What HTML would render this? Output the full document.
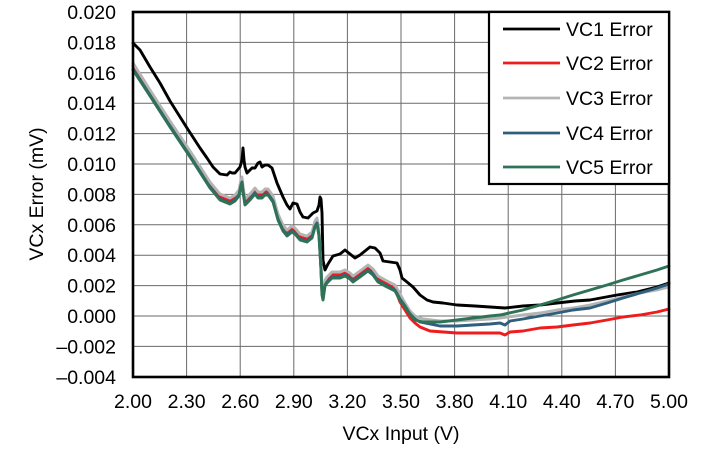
<!DOCTYPE html>
<html>
<head>
<meta charset="utf-8">
<style>
html,body{margin:0;padding:0;background:#fff;}
svg{display:block;}
text{font-family:"Liberation Sans",Arial,sans-serif;fill:#000;}
</style>
</head>
<body>
<svg width="718" height="455" viewBox="0 0 718 455" xmlns="http://www.w3.org/2000/svg">
<rect width="718" height="455" fill="#fff"/>
<!-- grid -->
<g stroke="#6a6a6a" stroke-width="1">
<line x1="186.6" y1="12" x2="186.6" y2="377"/>
<line x1="240.2" y1="12" x2="240.2" y2="377"/>
<line x1="293.8" y1="12" x2="293.8" y2="377"/>
<line x1="347.4" y1="12" x2="347.4" y2="377"/>
<line x1="401" y1="12" x2="401" y2="377"/>
<line x1="454.6" y1="12" x2="454.6" y2="377"/>
<line x1="508.2" y1="12" x2="508.2" y2="377"/>
<line x1="561.8" y1="12" x2="561.8" y2="377"/>
<line x1="615.4" y1="12" x2="615.4" y2="377"/>
<line x1="133" y1="42.4" x2="669" y2="42.4"/>
<line x1="133" y1="72.8" x2="669" y2="72.8"/>
<line x1="133" y1="103.2" x2="669" y2="103.2"/>
<line x1="133" y1="133.6" x2="669" y2="133.6"/>
<line x1="133" y1="164" x2="669" y2="164"/>
<line x1="133" y1="194.4" x2="669" y2="194.4"/>
<line x1="133" y1="224.8" x2="669" y2="224.8"/>
<line x1="133" y1="255.2" x2="669" y2="255.2"/>
<line x1="133" y1="285.6" x2="669" y2="285.6"/>
<line x1="133" y1="316" x2="669" y2="316"/>
<line x1="133" y1="346.4" x2="669" y2="346.4"/>
</g>
<!-- series -->
<g fill="none" stroke-width="2.9" stroke-linejoin="round" stroke-linecap="round">
<polyline stroke="#000000" points="133,43 140,50 150,67 160,83 170,101 187,128 200,148 207,158 213,167 220,174 227,175 230,172 232,173 235,173 240,167 242,160 243,148 244,160 245,167 247,173 252,168 255,168 258,163 260,162 262,167 265,165 268,165 272,168 277,183 280,190 283,197 287,205 290,209 293,203 297,204 300,212 303,217 308,218 313,213 317,211 319,205 320,197 321,199 322,213 323,260 325,270 328,264 333,256 340,254 345,250 350,254 355,258 360,255 365,251 370,247 375,248 380,253 383,261 390,262 397,263 400,270 402,278 407,282 413,287 420,295 427,300 433,302 443,303 457,305 475,306 490,307 505,308 523,306 540,305 557,303 575,301 590,300 617,295 637,292 657,287 669,283"/>
<polyline stroke="#ee1c1c" points="133,66 150,93 170,124 192,157 210,185 220,197 225,199 230,201 235,198 239,193 241,180 242,179 243,189 245,202 248,199 250,197 255,191 258,195 262,195 265,192 268,192 273,199 278,217 283,228 287,233 292,229 295,231 300,237 307,239 312,235 315,224 317,221 319,233 321,267 322,292 323,297 325,283 327,280 332,275 340,275 345,273 350,276 353,279 360,274 368,268 373,272 378,279 387,284 395,289 400,302 405,310 410,318 415,323 420,327 430,331 457,333 483,333 500,333 505,335 510,332 523,331 540,328 557,327 573,325 590,323 607,320 623,317 640,315 657,312 669,309"/>
<polyline stroke="#b4b4b4" points="133,63 150,90 170,121 192,154 210,182 220,194 225,196 230,198 235,195 239,190 241,180 242,177 243,186 245,199 248,196 250,194 255,188 258,192 262,192 265,189 268,189 273,196 278,214 283,225 287,230 292,226 295,228 300,234 307,236 312,232 315,221 317,218 319,230 321,264 322,289 323,294 325,280 327,277 332,272 340,272 345,270 350,273 353,276 360,271 368,265 373,269 378,276 387,281 395,285 400,294 405,303 410,311 415,316 423,319 440,321 457,321 473,320 490,319 500,318 523,315 540,313 557,310 573,308 590,305 607,301 623,297 640,293 657,290 669,287"/>
<polyline stroke="#2f5f7d" points="133,69 150,95 170,126 192,159 210,187 220,199 225,201 230,203 235,200 239,195 241,185 242,182 243,191 245,204 248,201 250,199 255,193 258,197 262,197 265,194 268,194 273,201 278,219 283,230 287,235 292,231 295,233 300,239 307,241 312,237 315,226 317,223 319,235 321,269 322,294 323,299 325,285 327,282 332,277 340,277 345,275 350,278 353,281 360,276 368,270 373,274 378,281 387,286 395,290 400,299 405,306 410,314 415,319 420,322 440,326 457,326 473,325 490,324 500,323 505,325 510,321 523,319 540,316 557,313 573,310 590,308 607,303 623,298 640,293 657,288 669,284"/>
<polyline stroke="#2e7358" points="133,70 150,96 170,127 192,160 210,188 220,200 225,202 230,204 235,201 239,196 241,186 242,183 243,192 245,205 248,202 250,200 255,194 258,198 262,198 265,195 268,195 273,202 278,220 283,231 287,236 292,232 295,234 300,240 307,242 312,238 315,227 317,224 319,236 321,270 322,295 323,300 325,286 327,283 332,278 340,278 345,276 350,279 353,282 360,277 368,271 373,275 378,282 387,287 395,291 400,300 405,307 410,314 415,320 423,322 440,322 457,320 473,318 490,316 500,315 523,310 540,305 557,300 573,295 590,290 607,285 623,280 640,275 657,270 669,266"/>
</g>
<!-- plot border -->
<rect x="133" y="12" width="536" height="365" fill="none" stroke="#000" stroke-width="2.6"/>
<!-- legend -->
<rect x="489" y="12" width="180" height="172" fill="#fff" stroke="#000" stroke-width="2.2"/>
<g stroke-width="2.8">
<line x1="503" y1="29" x2="560" y2="29" stroke="#000"/>
<line x1="503" y1="63" x2="560" y2="63" stroke="#ee1c1c"/>
<line x1="503" y1="98" x2="560" y2="98" stroke="#b4b4b4"/>
<line x1="503" y1="133" x2="560" y2="133" stroke="#2f5f7d"/>
<line x1="503" y1="167" x2="560" y2="167" stroke="#2e7358"/>
</g>
<g font-size="19.5">
<text x="566" y="36">VC1 Error</text>
<text x="566" y="70">VC2 Error</text>
<text x="566" y="105">VC3 Error</text>
<text x="566" y="140">VC4 Error</text>
<text x="566" y="174">VC5 Error</text>
</g>
<!-- y tick labels -->
<g font-size="19.5" text-anchor="end">
<text x="116" y="19">0.020</text>
<text x="116" y="49.4">0.018</text>
<text x="116" y="79.8">0.016</text>
<text x="116" y="110.2">0.014</text>
<text x="116" y="140.6">0.012</text>
<text x="116" y="171">0.010</text>
<text x="116" y="201.4">0.008</text>
<text x="116" y="231.8">0.006</text>
<text x="116" y="262.2">0.004</text>
<text x="116" y="292.6">0.002</text>
<text x="116" y="323">0.000</text>
<text x="116" y="353.4">–0.002</text>
<text x="116" y="383.8">–0.004</text>
</g>
<!-- x tick labels -->
<g font-size="19.5" text-anchor="middle">
<text x="133" y="408">2.00</text>
<text x="186.6" y="408">2.30</text>
<text x="240.2" y="408">2.60</text>
<text x="293.8" y="408">2.90</text>
<text x="347.4" y="408">3.20</text>
<text x="401" y="408">3.50</text>
<text x="454.6" y="408">3.80</text>
<text x="508.2" y="408">4.10</text>
<text x="561.8" y="408">4.40</text>
<text x="615.4" y="408">4.70</text>
<text x="669" y="408">5.00</text>
</g>
<!-- axis titles -->
<text x="401" y="440" font-size="19.5" text-anchor="middle">VCx Input (V)</text>
<text transform="translate(43,194) rotate(-90)" font-size="19.5" text-anchor="middle">VCx Error (mV)</text>
</svg>
</body>
</html>
